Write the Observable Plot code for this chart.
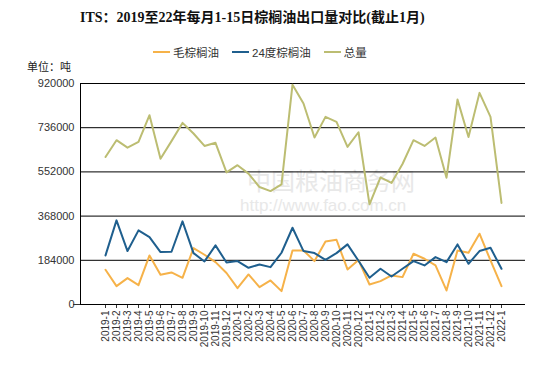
<!DOCTYPE html>
<html>
<head>
<meta charset="utf-8">
<script src="https://cdn.jsdelivr.net/npm/d3@7"></script>
<script src="https://cdn.jsdelivr.net/npm/@observablehq/plot@0.6"></script>
<style>
  html, body { margin: 0; padding: 0; background: #fff; }
  #wrap { position: relative; width: 550px; height: 366px; overflow: hidden; font-family: "Liberation Sans", Arial, "Noto Sans CJK SC", sans-serif; }
  #title { position: absolute; left: 80px; top: 6px; font: bold 14px "Liberation Serif", "Noto Sans CJK SC", serif; color: #111; white-space: nowrap; }
  #legend { position: absolute; left: 153px; top: 44px; display: flex; gap: 13px; font-size: 11.5px; color: #333; white-space: nowrap; }
  #legend .item { display: flex; align-items: center; gap: 3px; }
  #legend .sw { width: 17px; height: 2px; display: inline-block; }
  #unit { position: absolute; left: 27px; top: 58px; font-size: 11px; color: #222; }
  .wm { position: absolute; color: #e8e8e8; white-space: nowrap; }
  #chart { position: absolute; left: 0; top: 0; }
</style>
</head>
<body>
<div id="wrap">
  <div class="wm" style="left:247px;top:162px;font-size:24px;font-family:'Noto Sans CJK SC';">中国粮油商务网</div>
  <div class="wm" style="left:240px;top:196px;font-size:17px;">http://www.fao.com.cn</div>
  <div id="chart"></div>
  <div id="title">ITS：2019至22年每月1-15日棕榈油出口量对比(截止1月)</div>
  <div id="legend"></div>
  <div id="unit">单位：吨</div>
</div>
<script>
const months = ["2019-1","2019-2","2019-3","2019-4","2019-5","2019-6","2019-7","2019-8","2019-9","2019-10","2019-11","2019-12",
  "2020-1","2020-2","2020-3","2020-4","2020-5","2020-6","2020-7","2020-8","2020-9","2020-10","2020-11","2020-12",
  "2021-1","2021-2","2021-3","2021-4","2021-5","2021-6","2021-7","2021-8","2021-9","2021-10","2021-11","2021-12","2022-1"];
const seriesNames = ["毛棕榈油", "24度棕榈油", "总量"];
const seriesColors = ["#f6b249", "#1f5f8e", "#bcbd72"];
const crude = [144500, 76400, 109800, 80600, 204300, 123700, 133400, 111200, 234900, 207100, 176500, 131000,
  68100, 125100, 72300, 100100, 55600, 225100, 225100, 180700, 262700, 269600, 145900, 184800,
  83400, 97300, 120900, 114000, 211200, 190400, 162600, 58400, 225100, 215400, 294600, 183400, 76400];
const olein24 = [204300, 350200, 222400, 308500, 280700, 218200, 219600, 346000, 214000, 179300, 246000, 175000,
  180700, 152900, 166800, 155600, 215400, 319600, 222400, 214000, 186200, 214000, 250200, 182000,
  111200, 148700, 116700, 148700, 180700, 162600, 197300, 176500, 250100, 169500, 222400, 236200, 148700];
const total = [614000, 684000, 653000, 677000, 788000, 607000, 680000, 756000, 712000, 660000, 673000, 550000,
  580000, 545000, 489000, 472000, 500000, 915000, 837000, 695000, 781000, 760000, 656000, 717000,
  417000, 529000, 506000, 585000, 684000, 660000, 695000, 528000, 853000, 697000, 881000, 781000, 423000];
const yTicks = [0, 184000, 368000, 552000, 736000, 920000];

const values = [crude, olein24, total];
const rows = [];
seriesNames.forEach((s, k) => months.forEach((m, i) => rows.push({series: s, month: m, value: values[k][i]})));

const legend = document.getElementById("legend");
seriesNames.forEach((s, k) => {
  const it = document.createElement("span");
  it.className = "item";
  it.innerHTML = `<span class="sw" style="background:${seriesColors[k]}"></span><span>${s}</span>`;
  legend.appendChild(it);
});

const chart = Plot.plot({
  width: 550,
  height: 366,
  marginLeft: 80,
  marginRight: 25,
  marginTop: 83,
  marginBottom: 62,
  style: {fontFamily: "'Liberation Sans', Arial, sans-serif", fontSize: "10px", color: "#333", background: "transparent", overflow: "visible"},
  x: {type: "point", domain: months, padding: 1, label: null},
  y: {domain: [0, 920000], label: null},
  color: {domain: seriesNames, range: seriesColors},
  marks: [
    Plot.gridY(yTicks, {stroke: "#000", strokeOpacity: 1, strokeWidth: 1}),
    Plot.axisY(yTicks, {tickSize: 0, tickPadding: 6, tickFormat: d => String(d), fontSize: 11, label: null}),
    Plot.axisY([0], {tickSize: 7, tickFormat: () => "", label: null}),
    Plot.axisX({tickSize: 4, tickRotate: -90, tickPadding: 2, fontSize: 10, label: null}),
    Plot.ruleY([0], {stroke: "#000"}),
    Plot.frame({anchor: "left", stroke: "#000"}),
    Plot.line(rows, {x: "month", y: "value", z: "series", stroke: "series", strokeWidth: 2})
  ]
});
document.getElementById("chart").appendChild(chart);
</script>
</body>
</html>
